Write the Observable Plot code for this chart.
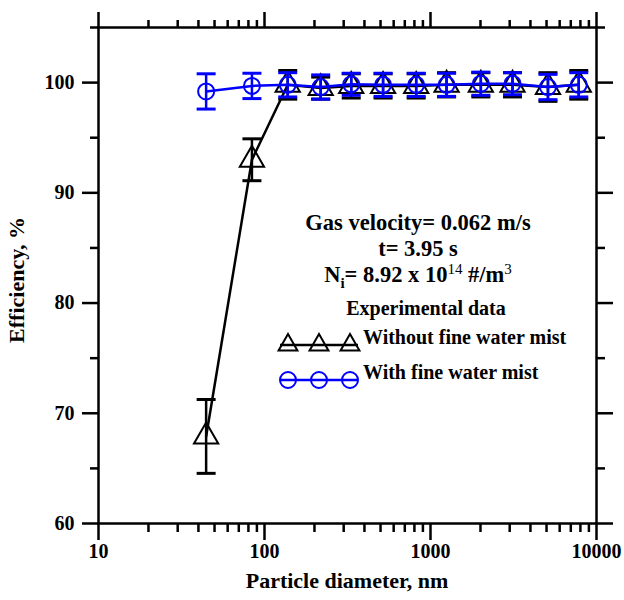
<!DOCTYPE html>
<html>
<head>
<meta charset="utf-8">
<script src="https://cdn.jsdelivr.net/npm/d3@7"></script>
<script src="https://cdn.jsdelivr.net/npm/@observablehq/plot@0.6"></script>
<style>
  html, body { margin: 0; padding: 0; background: #fff; }
  #chart svg { display: block; }
</style>
</head>
<body>
<div id="chart"></div>
<script>
// ---- Data ----
const diameters = [44.5, 84, 138, 218, 333, 518, 820, 1250, 2010, 3120, 5100, 7820];
const effWithout = [67.9, 93.0, 99.8, 99.5, 99.7, 99.7, 99.7, 99.8, 99.8, 99.8, 99.6, 99.8];
const errWithout = [3.35, 1.9, 1.3, 1.0, 1.1, 1.1, 1.1, 1.1, 1.1, 1.1, 1.3, 1.3];
const effWith = [99.2, 99.7, 99.8, 99.6, 99.85, 99.8, 99.8, 99.8, 99.9, 99.9, 99.6, 99.8];
const errWith = [1.6, 1.15, 1.1, 1.1, 1.0, 1.05, 1.05, 1.05, 1.05, 1.0, 1.15, 1.1];

const xMajorTicks = [10, 100, 1000, 10000];
const xMinorTicks = [20, 30, 40, 50, 60, 70, 80, 90, 200, 300, 400, 500, 600, 700, 800, 900, 2000, 3000, 4000, 5000, 6000, 7000, 8000, 9000];
const yMajorTicks = [60, 70, 80, 90, 100];
const yMinorTicks = [65, 75, 85, 95, 105];

const seriesNames = ["Without fine water mist", "With fine water mist"];
const xTitle = "Particle diameter, nm";
const yTitle = "Efficiency, %";

const without = diameters.map((d, i) => ({x: d, y: effWithout[i], lo: effWithout[i] - errWithout[i], hi: effWithout[i] + errWithout[i]}));
const withMist = diameters.map((d, i) => ({x: d, y: effWith[i], lo: effWith[i] - errWith[i], hi: effWith[i] + errWith[i]}));

// horizontal cap symbol for error bars
const capSymbol = {
  draw(ctx, size) {
    const r = Math.sqrt(size / Math.PI);
    ctx.moveTo(-r, 0);
    ctx.lineTo(r, 0);
  }
};

const FONT = "'Liberation Serif', 'Times New Roman', serif";
const BLUE = "#0000ff";

function errorMarks(data, color) {
  return [
    Plot.ruleX(data, {x: "x", y1: "lo", y2: "hi", stroke: color, strokeWidth: 2.5}),
    Plot.dot(data, {x: "x", y: "lo", symbol: capSymbol, r: 9.5, stroke: color, strokeWidth: 3}),
    Plot.dot(data, {x: "x", y: "hi", symbol: capSymbol, r: 9.5, stroke: color, strokeWidth: 3})
  ];
}

const chart = Plot.plot({
  width: 624,
  height: 600,
  marginLeft: 98,
  marginRight: 28,
  marginTop: 27,
  marginBottom: 77,
  x: {type: "log", domain: [10, 10000]},
  y: {domain: [60, 105]},
  style: {fontFamily: FONT, fontWeight: "bold", fontSize: "20px", color: "black", background: "white"},
  marks: [
    Plot.axisX({anchor: "bottom", ticks: xMajorTicks, tickSize: 17, strokeWidth: 2.5, tickPadding: 3, tickFormat: d => String(d), fontSize: 20, label: null}),
    Plot.axisX({anchor: "bottom", ticks: xMinorTicks, tickSize: 9, strokeWidth: 2.5, tickFormat: () => "", label: null}),
    Plot.axisX({anchor: "top", ticks: xMajorTicks, tickSize: 16, strokeWidth: 2.5, tickFormat: () => "", label: null}),
    Plot.axisX({anchor: "top", ticks: xMinorTicks, tickSize: 8, strokeWidth: 2.5, tickFormat: () => "", label: null}),
    Plot.axisY({anchor: "left", ticks: yMajorTicks, tickSize: 16, strokeWidth: 2.5, tickPadding: 8, tickFormat: d => String(d), fontSize: 20, label: null}),
    Plot.axisY({anchor: "left", ticks: yMinorTicks, tickSize: 8, strokeWidth: 2.5, tickFormat: () => "", label: null}),
    Plot.axisY({anchor: "right", ticks: yMajorTicks, tickSize: 16, strokeWidth: 2.5, tickFormat: () => "", label: null}),
    Plot.axisY({anchor: "right", ticks: yMinorTicks, tickSize: 8, strokeWidth: 2.5, tickFormat: () => "", label: null}),
    Plot.frame({stroke: "black", strokeWidth: 2.5}),
    // Without fine water mist (black triangles)
    Plot.line(without, {x: "x", y: "y", stroke: "black", strokeWidth: 2.5}),
    ...errorMarks(without, "black"),
    Plot.dot(without, {x: "x", y: "y", symbol: "triangle", r: 9, stroke: "black", strokeWidth: 2, fill: "none"}),
    // With fine water mist (blue circles)
    Plot.line(withMist, {x: "x", y: "y", stroke: BLUE, strokeWidth: 2.5}),
    ...errorMarks(withMist, BLUE),
    Plot.dot(withMist, {x: "x", y: "y", symbol: "circle", r: 8, stroke: BLUE, strokeWidth: 2, fill: "none"})
  ]
});

document.getElementById("chart").appendChild(chart);

// ---- Annotations, axis titles and legend ----
const svg = d3.select(chart);
const g = svg.append("g")
  .attr("font-family", FONT)
  .attr("font-weight", "bold")
  .attr("fill", "black");

g.append("text").attr("x", 347).attr("y", 588).attr("text-anchor", "middle").attr("font-size", 22).text(xTitle);
g.append("text").attr("transform", "translate(24,280) rotate(-90)").attr("text-anchor", "middle").attr("font-size", 22).text(yTitle);

g.append("text").attr("x", 418).attr("y", 230).attr("text-anchor", "middle").attr("font-size", 22.5).text("Gas velocity= 0.062 m/s");
g.append("text").attr("x", 418).attr("y", 256).attr("text-anchor", "middle").attr("font-size", 22.5).text("t= 3.95 s");
const ni = g.append("text").attr("x", 418).attr("y", 282).attr("text-anchor", "middle").attr("font-size", 22.5);
ni.append("tspan").text("N");
ni.append("tspan").attr("dy", 6).attr("font-size", 15).text("i");
ni.append("tspan").attr("dy", -6).text("= 8.92 x 10");
ni.append("tspan").attr("dy", -8).attr("font-size", 15).attr("font-weight", "normal").text("14");
ni.append("tspan").attr("dy", 8).text(" #/m");
ni.append("tspan").attr("dy", -8).attr("font-size", 15).attr("font-weight", "normal").text("3");

g.append("text").attr("x", 426).attr("y", 315).attr("text-anchor", "middle").attr("font-size", 20).text("Experimental data");

const legendRows = [
  {name: seriesNames[0], color: "black", symbol: d3.symbolTriangle2, size: Math.PI * 81, y: 345},
  {name: seriesNames[1], color: BLUE, symbol: d3.symbolCircle, size: Math.PI * 64, y: 380}
];
const swatchX = [288, 319, 350];
legendRows.forEach(row => {
  g.append("line").attr("x1", 280).attr("x2", 358).attr("y1", row.y).attr("y2", row.y)
    .attr("stroke", row.color).attr("stroke-width", 2.5);
  swatchX.forEach(sx => {
    g.append("path").attr("d", d3.symbol(row.symbol, row.size)())
      .attr("transform", `translate(${sx},${row.y})`)
      .attr("fill", "none").attr("stroke", row.color).attr("stroke-width", 2);
  });
  g.append("text").attr("x", 363).attr("y", row.y - 1).attr("text-anchor", "start").attr("font-size", 20).text(row.name);
});
</script>
</body>
</html>
